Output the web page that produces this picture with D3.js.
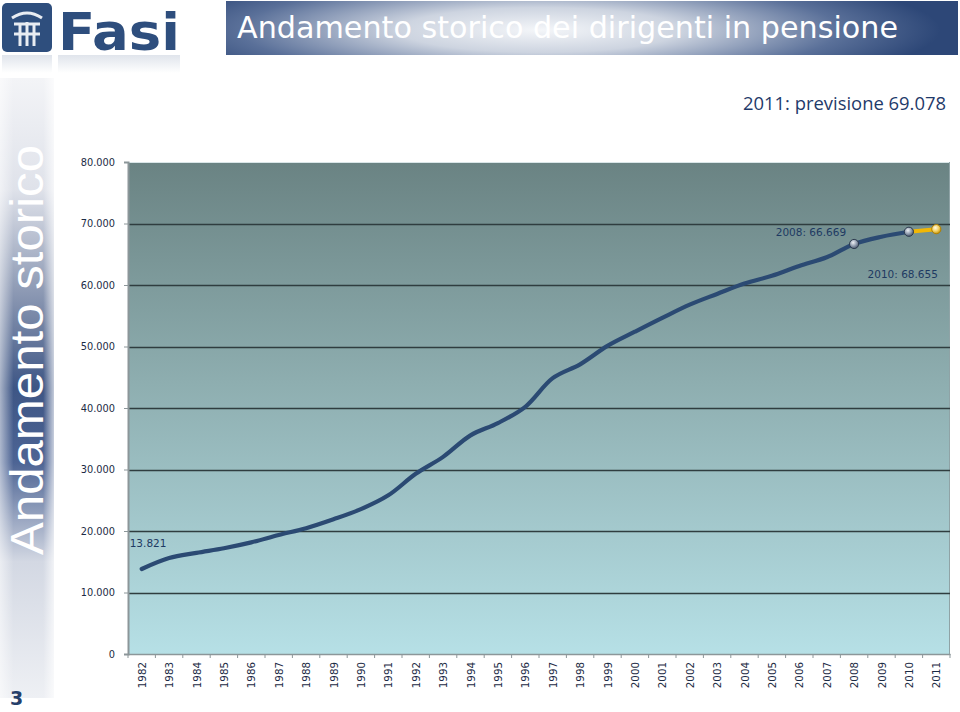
<!DOCTYPE html>
<html>
<head>
<meta charset="utf-8">
<script src="https://cdn.jsdelivr.net/npm/d3@7/dist/d3.min.js"></script>
<style>
  html, body { margin: 0; padding: 0; background: #ffffff; }
  svg { display: block; }
</style>
</head>
<body>
<svg id="chart" width="960" height="712"></svg>
<script>
// ---- Data ----
const years = ["1982","1983","1984","1985","1986","1987","1988","1989","1990","1991",
               "1992","1993","1994","1995","1996","1997","1998","1999","2000","2001",
               "2002","2003","2004","2005","2006","2007","2008","2009","2010","2011"];
const pensionati = [13821, 15600, 16450, 17200, 18150, 19350, 20450, 21900, 23550, 25800,
                    29300, 32050, 35550, 37550, 40200, 44850, 47100, 50100, 52400, 54650,
                    56800, 58550, 60250, 61500, 63100, 64500, 66669, 67850, 68655, 69078];
const yTicks = [0, 10000, 20000, 30000, 40000, 50000, 60000, 70000, 80000];
const title = "Andamento storico dei dirigenti in pensione";
const subtitle = "2011: previsione 69.078";
const sideLabel = "Andamento storico";
const pageNumber = "3";
const annotations = [
  { year: "1982", text: "13.821" },
  { year: "2008", text: "2008: 66.669" },
  { year: "2010", text: "2010: 68.655" }
];

// ---- Setup ----
const svg = d3.select("#chart");
const defs = svg.append("defs");
const fmt = v => d3.format(",")(v).replace(/,/g, ".");

// Gradients
const bg = defs.append("linearGradient").attr("id", "plotBg").attr("x1", 0).attr("y1", 0).attr("x2", 0).attr("y2", 1);
bg.append("stop").attr("offset", "0%").attr("stop-color", "#6a8383");
bg.append("stop").attr("offset", "45%").attr("stop-color", "#8eaeb0");
bg.append("stop").attr("offset", "100%").attr("stop-color", "#b6e0e6");

const tb = defs.append("radialGradient").attr("id", "titleBg")
  .attr("gradientUnits", "userSpaceOnUse").attr("cx", 540).attr("cy", 30).attr("r", 400)
  .attr("gradientTransform", "translate(540,30) scale(1,0.16) translate(-540,-30)");
tb.append("stop").attr("offset", "0%").attr("stop-color", "#f4f6f9");
tb.append("stop").attr("offset", "35%").attr("stop-color", "#cdd4e0");
tb.append("stop").attr("offset", "75%").attr("stop-color", "#5a7099");
tb.append("stop").attr("offset", "100%").attr("stop-color", "#2d4777");

const sb = defs.append("linearGradient").attr("id", "sideBg").attr("x1", 0).attr("y1", 0).attr("x2", 0).attr("y2", 1);
sb.append("stop").attr("offset", "0%").attr("stop-color", "#f3f4f7");
sb.append("stop").attr("offset", "18%").attr("stop-color", "#dfe2ea");
sb.append("stop").attr("offset", "35%").attr("stop-color", "#8a97b2");
sb.append("stop").attr("offset", "50%").attr("stop-color", "#3e5685");
sb.append("stop").attr("offset", "62%").attr("stop-color", "#4d6494");
sb.append("stop").attr("offset", "78%").attr("stop-color", "#d3d8e3");
sb.append("stop").attr("offset", "100%").attr("stop-color", "#eef0f4");

const sbh = defs.append("linearGradient").attr("id", "sideFade").attr("x1", 0).attr("y1", 0).attr("x2", 1).attr("y2", 0);
sbh.append("stop").attr("offset", "0%").attr("stop-color", "#ffffff").attr("stop-opacity", 0.55);
sbh.append("stop").attr("offset", "25%").attr("stop-color", "#ffffff").attr("stop-opacity", 0);
sbh.append("stop").attr("offset", "80%").attr("stop-color", "#ffffff").attr("stop-opacity", 0);
sbh.append("stop").attr("offset", "100%").attr("stop-color", "#ffffff").attr("stop-opacity", 0.7);

const mg = defs.append("radialGradient").attr("id", "markGray").attr("cx", "40%").attr("cy", "35%").attr("r", "65%");
mg.append("stop").attr("offset", "0%").attr("stop-color", "#eef1f5");
mg.append("stop").attr("offset", "60%").attr("stop-color", "#8d99ab");
mg.append("stop").attr("offset", "100%").attr("stop-color", "#4a586d");

const my = defs.append("radialGradient").attr("id", "markYellow").attr("cx", "40%").attr("cy", "35%").attr("r", "65%");
my.append("stop").attr("offset", "0%").attr("stop-color", "#fffbe8");
my.append("stop").attr("offset", "55%").attr("stop-color", "#f3d36a");
my.append("stop").attr("offset", "100%").attr("stop-color", "#c9960a");

const lg = defs.append("linearGradient").attr("id", "logoFade").attr("x1", 0).attr("y1", 0).attr("x2", 0).attr("y2", 1);
lg.append("stop").attr("offset", "0%").attr("stop-color", "#2e4e7d").attr("stop-opacity", 0.15);
lg.append("stop").attr("offset", "100%").attr("stop-color", "#2e4e7d").attr("stop-opacity", 0);

// ---- Header: logo ----
const logo = svg.append("g");
logo.append("rect").attr("x", 2).attr("y", 3).attr("width", 50).attr("height", 49).attr("rx", 5).attr("fill", "#2e4e7d");
const em = logo.append("g").attr("stroke", "#e8ecf2").attr("fill", "none").attr("stroke-width", 3);
em.append("path").attr("d", "M12,18 Q27,8 42,18");
em.append("path").attr("d", "M14,24 L40,24");
em.append("path").attr("d", "M20,24 L20,46 M27,22 L27,46 M34,24 L34,46");
em.append("path").attr("d", "M14,34 L40,34");
logo.append("rect").attr("x", 2).attr("y", 55).attr("width", 50).attr("height", 18).attr("fill", "url(#logoFade)");
logo.append("text").attr("x", 58).attr("y", 50)
  .attr("font-family", "DejaVu Sans, Verdana, sans-serif").attr("font-weight", "bold")
  .attr("font-size", 52).attr("fill", "#2e4e7d").attr("textLength", 122).attr("lengthAdjust", "spacingAndGlyphs")
  .text("Fasi");
logo.append("rect").attr("x", 58).attr("y", 55).attr("width", 122).attr("height", 18).attr("fill", "url(#logoFade)");

// ---- Header: title bar ----
svg.append("rect").attr("x", 226).attr("y", 1).attr("width", 732).attr("height", 54).attr("fill", "url(#titleBg)");
svg.append("text").attr("x", 237).attr("y", 38)
  .attr("font-family", "'Comic Sans MS', 'DejaVu Sans', sans-serif")
  .attr("font-size", 31).attr("fill", "#ffffff")
  .attr("textLength", 661).attr("lengthAdjust", "spacingAndGlyphs")
  .text(title);

// ---- Subtitle ----
svg.append("text").attr("x", 946).attr("y", 110).attr("text-anchor", "end")
  .attr("font-family", "'Liberation Sans Narrow', 'Open Sans', sans-serif")
  .attr("font-size", 19).attr("fill", "#1f3a6a")
  .attr("textLength", 203).attr("lengthAdjust", "spacingAndGlyphs")
  .text(subtitle);

// ---- Side strip ----
svg.append("rect").attr("x", 0).attr("y", 78).attr("width", 54).attr("height", 620).attr("fill", "url(#sideBg)");
svg.append("rect").attr("x", 0).attr("y", 78).attr("width", 54).attr("height", 620).attr("fill", "url(#sideFade)");
svg.append("text").attr("transform", "translate(43,555) rotate(-90)")
  .attr("font-family", "'Liberation Sans', Arial, sans-serif")
  .attr("font-size", 46).attr("fill", "#ffffff")
  .attr("textLength", 410).attr("lengthAdjust", "spacingAndGlyphs")
  .text(sideLabel);
svg.append("text").attr("x", 10).attr("y", 705)
  .attr("font-family", "'DejaVu Sans', Verdana, sans-serif").attr("font-weight", "bold")
  .attr("font-size", 19).attr("fill", "#253f6a").text(pageNumber);

// ---- Chart ----
const plot = { left: 128, right: 950, top: 162, bottom: 654 };
const x = d3.scaleBand().domain(years).range([plot.left, plot.right]).paddingInner(0).paddingOuter(0);
const y = d3.scaleLinear().domain([0, 80000]).range([plot.bottom, plot.top]);
const cx = d => x(d) + x.bandwidth() / 2;

svg.append("rect").attr("x", plot.left).attr("y", plot.top)
  .attr("width", plot.right - plot.left).attr("height", plot.bottom - plot.top)
  .attr("fill", "url(#plotBg)");
svg.append("line").attr("x1", plot.left).attr("x2", plot.right).attr("y1", plot.top + 0.5).attr("y2", plot.top + 0.5)
  .attr("stroke", "#d9e6e8").attr("stroke-width", 1);
svg.append("line").attr("x1", plot.right - 0.5).attr("x2", plot.right - 0.5).attr("y1", plot.top).attr("y2", plot.bottom)
  .attr("stroke", "#8fa3a6").attr("stroke-width", 1);

// gridlines
svg.append("g").selectAll("line").data(yTicks.filter(t => t > 0 && t < 80000)).join("line")
  .attr("x1", plot.left).attr("x2", plot.right)
  .attr("y1", d => Math.round(y(d)) + 0.5).attr("y2", d => Math.round(y(d)) + 0.5)
  .attr("stroke", "#2f3d3f").attr("stroke-width", 1.5);

// y axis
const yAxis = svg.append("g").attr("transform", `translate(${plot.left},0)`)
  .call(d3.axisLeft(y).tickValues(yTicks).tickFormat(fmt).tickSize(4).tickPadding(9));
yAxis.select(".domain").attr("stroke", "#8c9699").attr("stroke-width", 2);
yAxis.selectAll(".tick line").attr("stroke", "#8c9699");
yAxis.selectAll("text").attr("font-family", "'DejaVu Sans', Verdana, sans-serif")
  .attr("font-size", 9.8).attr("fill", "#1c2b45");

// x axis
const xAxis = svg.append("g").attr("transform", `translate(0,${plot.bottom})`)
  .call(d3.axisBottom(x).tickSize(0).tickPadding(0));
xAxis.select(".domain").attr("stroke", "#8c9699").attr("stroke-width", 1.5);
xAxis.selectAll(".tick text")
  .attr("font-family", "'DejaVu Sans', Verdana, sans-serif").attr("font-size", 10.3).attr("fill", "#1c2b45")
  .attr("text-anchor", "end").attr("dy", 0)
  .attr("transform", "translate(4,8) rotate(-90)")
  .attr("x", 0).attr("y", 0);
svg.append("g").selectAll("line").data(years.concat(["end"])).join("line")
  .attr("x1", (d, i) => plot.left + i * x.bandwidth()).attr("x2", (d, i) => plot.left + i * x.bandwidth())
  .attr("y1", plot.bottom).attr("y2", plot.bottom + 4)
  .attr("stroke", "#8c9699").attr("stroke-width", 1);

// line data
const pts = years.map((yr, i) => ({ yr, v: pensionati[i] }));
const histPts = pts.slice(0, pts.length - 1);
const forecastPts = pts.slice(pts.length - 2);

const line = d3.line().x(d => cx(d.yr)).y(d => y(d.v)).curve(d3.curveCatmullRom.alpha(0.5));

svg.append("path").datum(forecastPts).attr("d", line)
  .attr("fill", "none").attr("stroke", "#f2b705").attr("stroke-width", 4).attr("stroke-linecap", "round");
svg.append("path").datum(histPts).attr("d", line)
  .attr("fill", "none").attr("stroke", "#2b4a73").attr("stroke-width", 4.2)
  .attr("stroke-linecap", "round").attr("stroke-linejoin", "round");

// markers
const markerYears = ["2008", "2010", "2011"];
svg.append("g").selectAll("circle").data(pts.filter(p => markerYears.includes(p.yr))).join("circle")
  .attr("cx", d => cx(d.yr)).attr("cy", d => y(d.v)).attr("r", 4.6)
  .attr("fill", d => d.yr === "2011" ? "url(#markYellow)" : "url(#markGray)")
  .attr("stroke", d => d.yr === "2011" ? "#b08000" : "#2c3a4e").attr("stroke-width", 1);

// annotations
const annPos = {
  "1982": { dx: -12, dy: -22, anchor: "start" },
  "2008": { dx: -8, dy: -8, anchor: "end" },
  "2010": { dx: 29, dy: 46, anchor: "end" }
};
svg.append("g").selectAll("text").data(annotations).join("text")
  .attr("x", d => cx(d.year) + annPos[d.year].dx)
  .attr("y", d => y(pensionati[years.indexOf(d.year)]) + annPos[d.year].dy)
  .attr("text-anchor", d => annPos[d.year].anchor)
  .attr("font-family", "'DejaVu Sans', Tahoma, sans-serif").attr("font-size", 10.5)
  .attr("fill", "#1e3a62")
  .text(d => d.text);
</script>
</body>
</html>
